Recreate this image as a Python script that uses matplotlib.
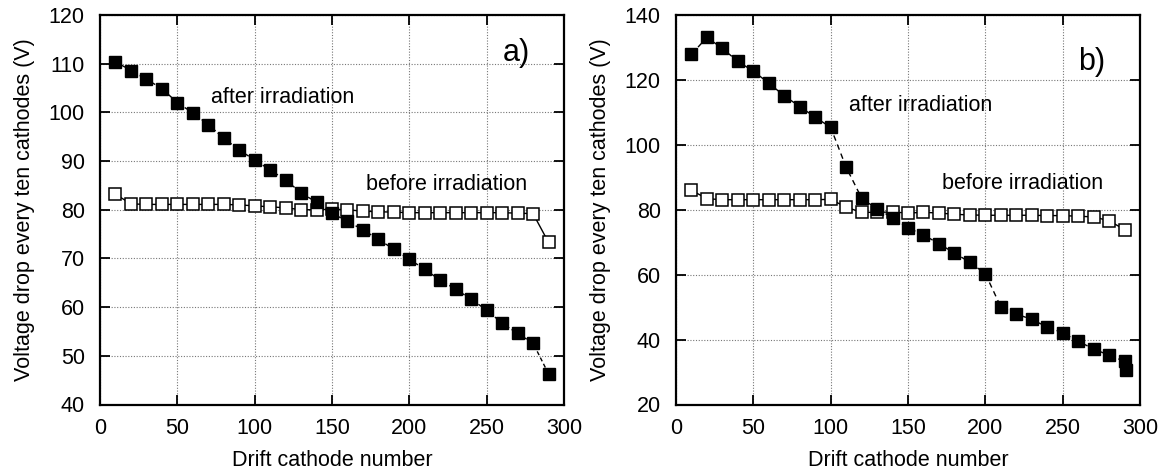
import matplotlib
matplotlib.use("Agg")
import matplotlib.pyplot as plt

plt.rcParams['font.family'] = ['Liberation Sans', 'DejaVu Sans']

# ---- data ----
cath_a = [10, 20, 30, 40, 50, 60, 70, 80, 90, 100, 110, 120, 130, 140, 150,
          160, 170, 180, 190, 200, 210, 220, 230, 240, 250, 260, 270, 280, 290]
after_a = [110.4, 108.6, 106.8, 104.9, 102.0, 99.9, 97.5, 94.7, 92.3, 90.2,
           88.2, 86.1, 83.5, 81.5, 79.3, 77.6, 75.9, 73.9, 71.9, 69.8,
           67.8, 65.5, 63.7, 61.6, 59.4, 56.7, 54.6, 52.6, 46.3]
before_a = [83.2, 81.2, 81.1, 81.1, 81.1, 81.1, 81.1, 81.1, 81.0, 80.8,
            80.6, 80.4, 80.0, 80.0, 80.1, 80.0, 79.7, 79.6, 79.5, 79.4,
            79.4, 79.4, 79.4, 79.4, 79.4, 79.4, 79.3, 79.2, 73.3]

cath_b_after = [10, 20, 30, 40, 50, 60, 70, 80, 90, 100, 110, 120, 130, 140, 150,
                160, 170, 180, 190, 200, 210, 220, 230, 240, 250, 260, 270, 280, 290, 291]
after_b = [127.9, 133.1, 129.7, 125.7, 122.7, 119.0, 115.1, 111.8, 108.5, 105.4,
           93.1, 83.6, 80.2, 77.6, 74.4, 72.3, 69.5, 66.7, 63.8, 60.3,
           50.1, 47.9, 46.2, 43.9, 42.1, 39.5, 37.1, 35.2, 33.3, 30.5]
cath_b_before = [10, 20, 30, 40, 50, 60, 70, 80, 90, 100, 110, 120, 130, 140, 150,
                 160, 170, 180, 190, 200, 210, 220, 230, 240, 250, 260, 270, 280, 290]
before_b = [86.0, 83.4, 83.1, 83.1, 83.1, 83.1, 83.1, 83.1, 83.1, 83.2,
            80.8, 79.2, 79.2, 79.3, 79.0, 79.2, 79.0, 78.6, 78.4, 78.3,
            78.3, 78.3, 78.3, 78.2, 78.2, 78.0, 77.8, 76.6, 73.9]

xticks = [0, 50, 100, 150, 200, 250, 300]
yticks_a = [40, 50, 60, 70, 80, 90, 100, 110, 120]
yticks_b = [20, 40, 60, 80, 100, 120, 140]

fig = plt.figure(figsize=(11.66, 4.74), dpi=100)
W, H = 1166, 474
ax1 = fig.add_axes([100 / W, 1 - 404.5 / H, 464 / W, 389.5 / H])
ax2 = fig.add_axes([676 / W, 1 - 404.5 / H, 464 / W, 389.5 / H])

FS = 15.5


def style(ax, yticks):
    ax.set_xlim(0, 300)
    ax.set_ylim(yticks[0], yticks[-1])
    ax.set_xticks(xticks)
    ax.set_yticks(yticks)
    ax.grid(True, color='#777777', linestyle=(0, (1, 1.5)), linewidth=0.8)
    ax.set_axisbelow(True)
    for s in ax.spines.values():
        s.set_linewidth(1.6)
    ax.tick_params(direction='in', length=7, width=1.3, top=True, right=True,
                   labelsize=FS)
    ax.tick_params(axis='y', pad=11)
    ax.tick_params(axis='x', pad=10)
    ax.set_xlabel('Drift cathode number', fontsize=FS, labelpad=8)
    ax.set_ylabel('Voltage drop every ten cathodes (V)', fontsize=FS, labelpad=10)


# panel a
ax1.plot(cath_a, before_a, color='black', linestyle='-', linewidth=1.0,
         marker='s', markersize=8, markerfacecolor='white',
         markeredgecolor='black', markeredgewidth=1.1, zorder=3)
ax1.plot(cath_a, after_a, color='black', linestyle=(0, (3, 2)), linewidth=1.0,
         marker='s', markersize=8.5, markerfacecolor='black',
         markeredgecolor='black', zorder=4)
style(ax1, yticks_a)
ax1.text(118, 103, 'after irradiation', fontsize=FS, ha='center', va='center')
ax1.text(224, 85.1, 'before irradiation', fontsize=FS, ha='center', va='center')
ax1.text(278, 112.2, 'a)', fontsize=22, ha='right', va='center')

# panel b
ax2.plot(cath_b_before, before_b, color='black', linestyle='-', linewidth=1.0,
         marker='s', markersize=8, markerfacecolor='white',
         markeredgecolor='black', markeredgewidth=1.1, zorder=3)
ax2.plot(cath_b_after, after_b, color='black', linestyle=(0, (4, 3)), linewidth=1.0,
         marker='s', markersize=8.5, markerfacecolor='black',
         markeredgecolor='black', zorder=4)
style(ax2, yticks_b)
ax2.text(158, 112, 'after irradiation', fontsize=FS, ha='center', va='center')
ax2.text(224, 88.2, 'before irradiation', fontsize=FS, ha='center', va='center')
ax2.text(277.5, 125.6, 'b)', fontsize=22, ha='right', va='center')

fig.savefig('out.png', dpi=100)
